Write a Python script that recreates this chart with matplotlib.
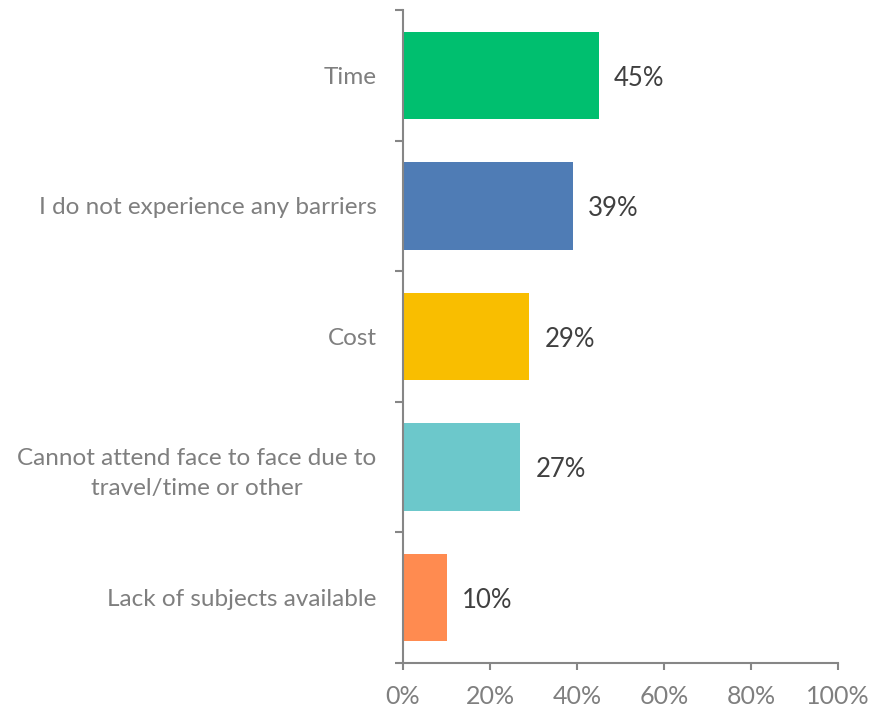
import matplotlib.pyplot as plt
from matplotlib.ticker import PercentFormatter

plt.rcParams['font.family'] = ['Lato', 'DejaVu Sans']

categories = ['Time', 'I do not experience any barriers', 'Cost',
              'Cannot attend face to face due to\ntravel/time or other',
              'Lack of subjects available']
values = [45, 39, 29, 27, 10]
colors = ['#00BF6F', '#4F7CB5', '#F9BE00', '#6CC8CB', '#FF8B50']

fig = plt.figure(figsize=(8.71, 7.09), dpi=100)
ax = fig.add_axes([0.4627, 0.0649, 0.4994, 0.921])

pos = list(range(len(categories)))[::-1]
ax.barh(pos, values, height=0.67, color=colors)

for p, v in zip(pos, values):
    ax.annotate(f'{v}%', (v, p), xytext=(11, -2), textcoords='offset points',
                va='center', ha='left', fontsize=18.5, color='#404040')

ax.set_xlim(0, 100)
ax.set_ylim(-0.5, len(categories) - 0.5)
ax.set_xticks(range(0, 101, 20))
ax.xaxis.set_major_formatter(PercentFormatter(decimals=0))

# ticks sit on the category boundaries, labels in between
ax.set_yticks([x - 0.5 for x in range(len(categories) + 1)])
ax.set_yticklabels([])
ax.set_yticks(pos, minor=True)
ax.set_yticklabels(categories, minor=True, ha='right', multialignment='center',
                   linespacing=1.55)
ax.tick_params(axis='y', which='minor', length=0, pad=19, labelsize=17.5,
               labelcolor='#7F7F7F')
ax.tick_params(axis='y', which='major', length=6, width=1.5, color='#868686',
               direction='out')
ax.tick_params(axis='x', length=5, width=1.5, color='#868686', direction='out',
               labelsize=18, labelcolor='#7F7F7F', pad=11)

for s in ['top', 'right']:
    ax.spines[s].set_visible(False)
for s in ['left', 'bottom']:
    ax.spines[s].set_color('#868686')
    ax.spines[s].set_linewidth(1.5)

fig.savefig('out.png', dpi=100)
